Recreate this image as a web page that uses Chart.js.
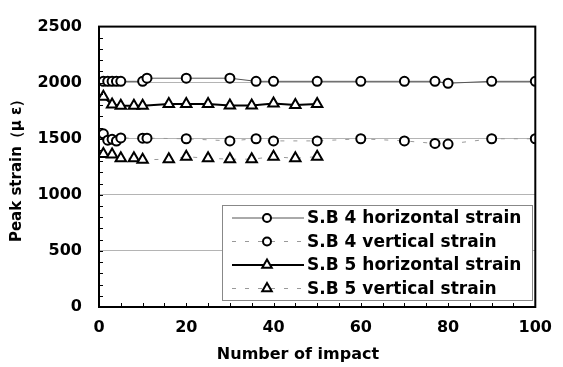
<!DOCTYPE html>
<html>
<head>
<meta charset="utf-8">
<script src="https://cdn.jsdelivr.net/npm/chart.js@4"></script>
<style>
  html, body { margin: 0; padding: 0; background: #fff; }
</style>
</head>
<body>
<canvas id="strainChart" width="563" height="367"></canvas>
<script>
// impacts at which each gauge was read
const impactsSB4 = [1, 2, 3, 4, 5, 10, 11, 20, 30, 36, 40, 50, 60, 70, 77, 80, 90, 100];
const impactsSB5 = [1, 3, 5, 8, 10, 16, 20, 25, 30, 35, 40, 45, 50];

const sb4Horizontal = [2012, 2012, 2012, 2012, 2012, 2012, 2040, 2040, 2040, 2012, 2012, 2012, 2012, 2012, 2012, 1995, 2012, 2012];
const sb4Vertical = [1544, 1487, 1495, 1480, 1507, 1505, 1505, 1500, 1481, 1500, 1481, 1481, 1500, 1481, 1458, 1453, 1500, 1500];
const sb5Horizontal = [1875, 1805, 1795, 1795, 1795, 1810, 1810, 1810, 1796, 1796, 1815, 1802, 1810];
const sb5Vertical = [1365, 1360, 1326, 1326, 1312, 1318, 1340, 1326, 1318, 1318, 1340, 1326, 1340];

const seriesNames = ["S.B 4 horizontal strain", "S.B 4 vertical strain", "S.B 5 horizontal strain", "S.B 5 vertical strain"];
const xTitle = "Number of impact";
const yTitle = "Peak strain（μ ε）";

const FONT = "'DejaVu Sans', sans-serif";

function pairs(xs, ys) {
    return xs.map((x, i) => ({ x: x, y: ys[i] }));
}

// frame, inward tick marks, x title and the legend box in the plot
const framePlugin = {
    id: "frame",
    afterDatasetsDraw(chart) {
        const ctx = chart.ctx;
        const a = chart.chartArea;
        const xs = chart.scales.x;
        const ys = chart.scales.y;
        ctx.save();
        ctx.strokeStyle = "#000";
        ctx.lineWidth = 1;
        for (let v = 5; v < 100; v += 5) {
            const px = Math.round(xs.getPixelForValue(v)) + 0.5;
            ctx.beginPath();
            ctx.moveTo(px, a.bottom);
            ctx.lineTo(px, a.bottom - 4);
            ctx.stroke();
        }
        for (let v = 100; v < 2500; v += 100) {
            const py = Math.round(ys.getPixelForValue(v)) + 0.5;
            ctx.beginPath();
            ctx.moveTo(a.left, py);
            ctx.lineTo(a.left + 4, py);
            ctx.stroke();
        }
        ctx.lineWidth = 2;
        ctx.strokeRect(a.left, a.top, a.right - a.left, a.bottom - a.top);

        // x title, set a little left of the plot centre as in the source
        ctx.fillStyle = "#000";
        ctx.font = "bold 16px " + FONT;
        ctx.textAlign = "center";
        ctx.textBaseline = "middle";
        ctx.fillText(xTitle, 298, 355);

        // legend
        const bx = 222, by = 205, bw = 310, bh = 95;
        ctx.fillStyle = "#fff";
        ctx.fillRect(bx, by, bw, bh);
        ctx.strokeStyle = "#888";
        ctx.lineWidth = 1;
        ctx.strokeRect(bx + 0.5, by + 0.5, bw, bh);
        ctx.font = "bold 17px " + FONT;
        ctx.textAlign = "left";
        chart.data.datasets.forEach((ds, i) => {
            const cy = 218 + i * 23.5;
            ctx.save();
            ctx.strokeStyle = ds.borderColor;
            ctx.lineWidth = ds.borderWidth;
            ctx.setLineDash(ds.borderDash || []);
            ctx.beginPath();
            ctx.moveTo(232, cy);
            ctx.lineTo(304, cy);
            ctx.stroke();
            ctx.restore();
            ctx.save();
            ctx.fillStyle = "#fff";
            ctx.strokeStyle = "#000";
            ctx.lineWidth = ds.pointBorderWidth;
            Chart.helpers.drawPoint(ctx, {
                pointStyle: ds.pointStyle,
                radius: ds.pointRadius - 0.5,
                rotation: 0,
                borderWidth: ds.pointBorderWidth
            }, 267, cy);
            ctx.restore();
            ctx.fillStyle = "#000";
            ctx.fillText(ds.label, 307, cy + 1);
        });
        ctx.restore();
    }
};

const datasets = [
    {
        label: seriesNames[0],
        data: pairs(impactsSB4, sb4Horizontal),
        borderColor: "#555",
        borderWidth: 1,
        pointStyle: "circle",
        pointRadius: 4.5,
        pointBorderWidth: 2,
        pointBorderColor: "#000",
        pointBackgroundColor: "#fff",
    },
    {
        label: seriesNames[1],
        data: pairs(impactsSB4, sb4Vertical),
        borderColor: "#999",
        borderWidth: 1,
        borderDash: [4, 9],
        pointStyle: "circle",
        pointRadius: 4.5,
        pointBorderWidth: 2,
        pointBorderColor: "#000",
        pointBackgroundColor: "#fff",
    },
    {
        label: seriesNames[2],
        data: pairs(impactsSB5, sb5Horizontal),
        borderColor: "#000",
        borderWidth: 2,
        pointStyle: "triangle",
        pointRadius: 6,
        pointBorderWidth: 2,
        pointBorderColor: "#000",
        pointBackgroundColor: "#fff",
    },
    {
        label: seriesNames[3],
        data: pairs(impactsSB5, sb5Vertical),
        borderColor: "#999",
        borderWidth: 1,
        borderDash: [4, 9],
        pointStyle: "triangle",
        pointRadius: 6,
        pointBorderWidth: 2,
        pointBorderColor: "#000",
        pointBackgroundColor: "#fff",
    },
];

const config = {
    type: "line",
    data: { datasets: datasets },
    options: {
        responsive: false,
        animation: false,
        layout: { padding: { top: 15, right: 18, left: 0, bottom: 0 } },
        elements: { line: { tension: 0, fill: false } },
        plugins: {
            legend: { display: false },
            tooltip: { enabled: false },
        },
        scales: {
            x: {
                type: "linear",
                min: 0,
                max: 100,
                grid: { display: false, drawTicks: false },
                border: { display: false },
                ticks: {
                    stepSize: 20,
                    padding: 11,
                    color: "#000",
                    maxRotation: 0,
                    font: { family: FONT, size: 16, weight: "bold" },
                },
                afterFit(scale) { scale.height = 60; },
            },
            y: {
                min: 0,
                max: 2500,
                grid: {
                    drawTicks: false,
                    color: (c) => (c.tick && c.tick.value > 0 && c.tick.value < 2500 ? "#b4b4b4" : "rgba(0,0,0,0)"),
                    lineWidth: 1,
                },
                border: { display: false },
                ticks: {
                    stepSize: 500,
                    padding: 17,
                    color: "#000",
                    font: { family: FONT, size: 16, weight: "bold" },
                    callback: (v) => String(v),
                },
                title: {
                    display: true,
                    text: yTitle,
                    color: "#000",
                    padding: { top: 8, bottom: 0 },
                    font: { family: FONT, size: 15, weight: "bold" },
                },
                afterFit(scale) { scale.width = 99; },
            },
        },
    },
    plugins: [framePlugin],
};

let strainChart = new Chart(document.getElementById("strainChart"), config);
</script>
</body>
</html>
